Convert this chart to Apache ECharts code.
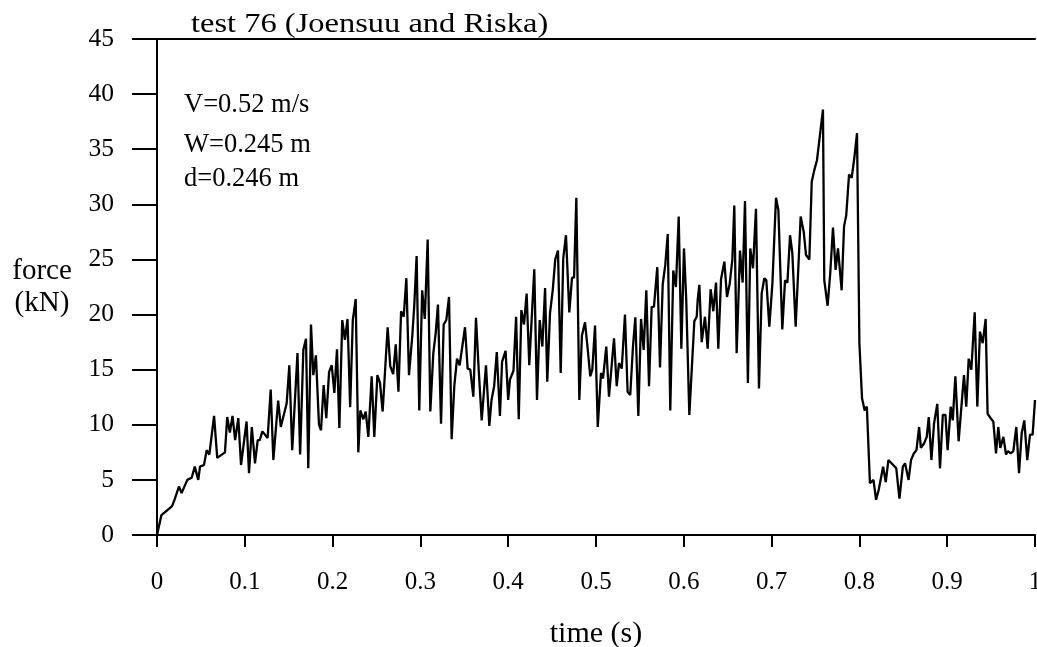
<!DOCTYPE html>
<html>
<head>
<meta charset="utf-8">
<script src="https://cdn.jsdelivr.net/npm/echarts@6/dist/echarts.min.js"></script>
<style>html,body{margin:0;padding:0;background:#fff}#c{width:1037px;height:647px}</style>
</head>
<body>
<div id="c"></div>
<script>
const titleText = "test 76 (Joensuu and Riska)";
const notes = ["V=0.52 m/s", "W=0.245 m", "d=0.246 m"];
const xName = "time (s)";
const yName = "force\n(kN)";
const xTicks = [0, 0.1, 0.2, 0.3, 0.4, 0.5, 0.6, 0.7, 0.8, 0.9, 1];
const yTicks = [0, 5, 10, 15, 20, 25, 30, 35, 40, 45];

const time = [
0,0.005,0.017,0.020,0.025,0.028,0.0345,0.0395,0.043,0.047,0.049,0.0535,0.0566,0.0596,0.065,0.0686,0.0774,0.080,0.083,0.086,0.089,0.0926,0.0957,
0.102,0.1048,0.108,0.1116,0.1147,0.117,0.120,0.126,0.1295,0.1325,0.138,0.141,0.1477,0.1507,0.154,0.160,0.163,0.1667,0.1697,0.1723,0.1754,0.178,0.181,0.1845,0.1868,0.1898,0.1928,0.196,0.199,
0.202,0.205,0.2077,0.211,0.214,0.217,0.220,0.223,0.2263,0.2293,0.2316,0.235,0.2377,0.2407,0.2445,0.2475,0.251,0.254,0.257,0.2627,0.2657,0.269,0.2719,0.275,0.278,0.281,0.284,0.287,0.2908,0.293,0.2957,0.2987,
0.302,0.305,0.3083,0.3113,0.3147,0.3174,0.320,0.3235,0.3265,0.3295,0.3326,0.3356,0.3386,0.3417,0.3447,0.3508,0.3538,0.3568,0.3603,0.3633,0.3664,0.3698,0.3747,0.3785,0.381,0.384,0.387,0.3906,0.393,0.397,
0.400,0.402,0.406,0.409,0.412,0.415,0.418,0.421,0.424,0.4297,0.4328,0.4359,0.4389,0.442,0.4445,0.4476,0.4507,0.4536,0.4567,0.4598,0.4627,0.4658,0.4696,0.4727,0.475,0.4776,0.481,0.484,0.4875,0.4905,0.4935,0.4958,0.4989,
0.502,0.5057,0.508,0.5117,0.5148,0.5205,0.5236,0.5262,0.5293,0.533,0.536,0.539,0.5421,0.5448,0.5482,0.5513,0.5543,0.5573,0.5604,0.5634,0.566,0.5698,0.5729,0.576,0.5789,0.5817,0.5846,0.588,0.591,0.5942,0.5972,
0.6002,0.6028,0.6063,0.612,0.6147,0.6158,0.6177,0.6204,0.6241,0.6272,0.6306,0.6336,0.6367,0.6393,0.6424,0.6462,0.6492,0.6523,0.6553,0.6575,0.6602,0.664,0.667,0.6697,0.673,0.6757,0.6788,0.6822,0.6856,0.6887,0.6917,0.694,0.6974,
0.7009,0.7050,0.7077,0.7122,0.7153,0.718,0.721,0.7236,0.7274,0.7331,0.7366,0.7392,0.743,0.7457,0.7486,0.7517,0.7548,0.7585,0.760,0.7638,0.7668,0.7699,0.7729,0.7756,0.7798,0.7825,0.785,0.7882,0.7912,0.7942,0.7973,
0.800,0.803,0.806,0.8085,0.812,0.816,0.819,0.822,0.827,0.830,0.833,0.8385,0.842,0.8456,0.8495,0.852,0.856,0.8588,0.862,0.865,0.868,0.870,0.8736,0.8767,0.879,0.882,0.885,0.8887,0.8918,0.895,0.898,
0.9005,0.904,0.9063,0.9093,0.913,0.9191,0.9217,0.9245,0.9275,0.9313,0.9343,0.9373,0.9404,0.9438,0.946,0.9495,0.9525,0.9556,0.9582,0.9605,0.964,0.967,0.9692,0.9723,0.9753,0.9787,0.9818,0.9848,0.9878,0.9912,0.9943,0.9973,1.0
];
const force = [
0,1.8,2.6,3.2,4.4,3.8,5.0,5.2,6.2,5.0,6.2,6.35,7.7,7.3,10.8,7.0,7.5,10.7,9.3,10.8,8.6,10.6,6.35,
10.3,5.6,9.8,6.5,8.6,8.6,9.4,8.8,13.2,6.8,12.2,9.8,11.95,15.4,7.7,16.5,7.3,16.8,17.8,6.05,19.1,14.5,16.3,10.0,9.5,13.6,10.6,14.8,15.4,
12.9,16.85,9.7,19.5,17.7,19.6,11.6,19.5,21.4,7.5,11.3,10.5,11.2,8.9,14.4,8.9,14.5,13.8,11.2,18.85,15.3,14.6,17.3,13.0,20.3,19.8,23.3,14.5,18.1,20.8,25.3,11.3,
22.2,19.6,26.8,11.2,16.5,18.3,20.9,10.1,19.1,19.5,21.6,8.7,13.5,16.0,15.4,18.85,15.1,15.0,12.55,19.7,15.0,10.4,15.4,9.9,12.25,13.5,16.6,10.8,15.7,16.7,
12.25,14.1,14.9,19.8,10.5,20.4,19.1,21.9,15.4,24.1,12.25,19.5,17.1,22.4,13.9,20.1,22.2,25.0,25.8,14.7,25.1,27.2,20.2,23.35,23.35,30.6,12.25,18.1,19.3,16.9,14.4,15.0,19.0,
9.8,14.7,14.2,17.1,12.55,17.85,13.5,15.6,15.1,20.0,13.0,12.7,17.1,19.75,10.8,19.6,16.8,22.2,13.5,20.7,20.7,24.3,15.2,22.75,24.5,27.3,11.3,24.0,22.5,28.9,16.9,
26.0,21.3,10.9,19.4,19.8,21.3,22.7,17.5,19.8,16.9,22.3,20.3,22.9,16.9,23.2,24.8,21.6,22.8,25.0,29.9,16.5,25.8,22.9,30.3,13.8,26.0,24.2,29.6,13.3,21.9,23.3,23.1,18.9,
22.8,30.6,29.5,18.65,23.1,22.9,27.2,25.6,18.9,28.9,27.5,25.4,25.0,32.05,33.1,34.0,36.1,38.6,23.1,20.8,23.75,27.9,24.05,26.0,22.2,28.0,29.0,32.7,32.4,34.2,36.45,
17.4,12.4,11.3,11.65,4.7,5.0,3.2,4.1,6.2,4.8,6.8,6.35,6.05,3.3,6.2,6.5,5.0,6.8,7.4,7.7,9.8,7.9,8.3,8.9,10.7,6.8,10.1,11.9,6.05,10.9,10.9,
7.7,11.65,10.4,14.4,8.5,14.5,11.65,16.0,15.0,20.2,11.65,18.45,17.4,19.6,11.0,10.6,10.3,7.4,9.8,7.9,8.9,7.3,7.6,7.4,7.6,9.8,5.6,9.2,10.4,6.8,9.1,9.1,12.25
];

const seriesData = time.map((t, i) => [t, force[i]]);
const FONT = '"Liberation Serif", "DejaVu Serif", serif';

const chart = echarts.init(document.getElementById('c'), null, {renderer: 'canvas'});
chart.setOption({
  animation: false,
  backgroundColor: '#fff',
  grid: {left: 157, right: 2, top: 39, bottom: 112, containLabel: false, outerBoundsMode: 'none'},
  xAxis: [{
    type: 'value', min: 0, max: 1, interval: 0.1,
    name: xName, nameLocation: 'middle', nameGap: 84,
    nameTextStyle: {fontFamily: FONT, fontSize: 30, color: '#000'},
    axisLine: {show: true, onZero: false, lineStyle: {color: '#000', width: 2}},
    axisTick: {show: true, length: 12, lineStyle: {color: '#000', width: 2}},
    axisLabel: {margin: 35, fontFamily: FONT, fontSize: 25, color: '#000',
      formatter: v => { const m = xTicks.find(t => Math.abs(t - v) < 1e-9); return String(m !== undefined ? m : +v.toFixed(1)); }},
    splitLine: {show: false}
  }, {
    type: 'value', min: 0, max: 1, position: 'top',
    axisLine: {show: true, onZero: false, lineStyle: {color: '#000', width: 2}},
    axisTick: {show: false}, axisLabel: {show: false}, splitLine: {show: false}
  }],
  yAxis: {
    type: 'value', min: 0, max: 45, interval: 5,
    name: yName, nameLocation: 'middle', nameRotate: 0, nameGap: 115,
    nameTextStyle: {fontFamily: FONT, fontSize: 29, color: '#000', align: 'center', lineHeight: 32, padding: [6, 0, 0, 0]},
    axisLine: {show: true, onZero: false, lineStyle: {color: '#000', width: 2}},
    axisTick: {show: true, length: 25, lineStyle: {color: '#000', width: 2}},
    axisLabel: {margin: 43, fontFamily: FONT, fontSize: 25.5, color: '#000', padding: [6, 0, 0, 0],
      formatter: v => String(yTicks.find(t => t === v) ?? v)},
    splitLine: {show: false}
  },
  graphic: [{
    type: 'text', x: 191, y: 11, scaleX: 1.16,
    style: {text: titleText, font: '28px ' + FONT, fill: '#000', verticalAlign: 'top'}
  }].concat(notes.map((s, i) => ({
    type: 'text', x: 184, y: [92, 132, 166][i],
    style: {text: s, font: '26.5px ' + FONT, fill: '#000', verticalAlign: 'top'}
  }))),
  series: [{
    type: 'line', xAxisIndex: 0, data: seriesData, showSymbol: false, symbol: 'none',
    lineStyle: {color: '#000', width: 2.3}
  }]
});
</script>
</body>
</html>
